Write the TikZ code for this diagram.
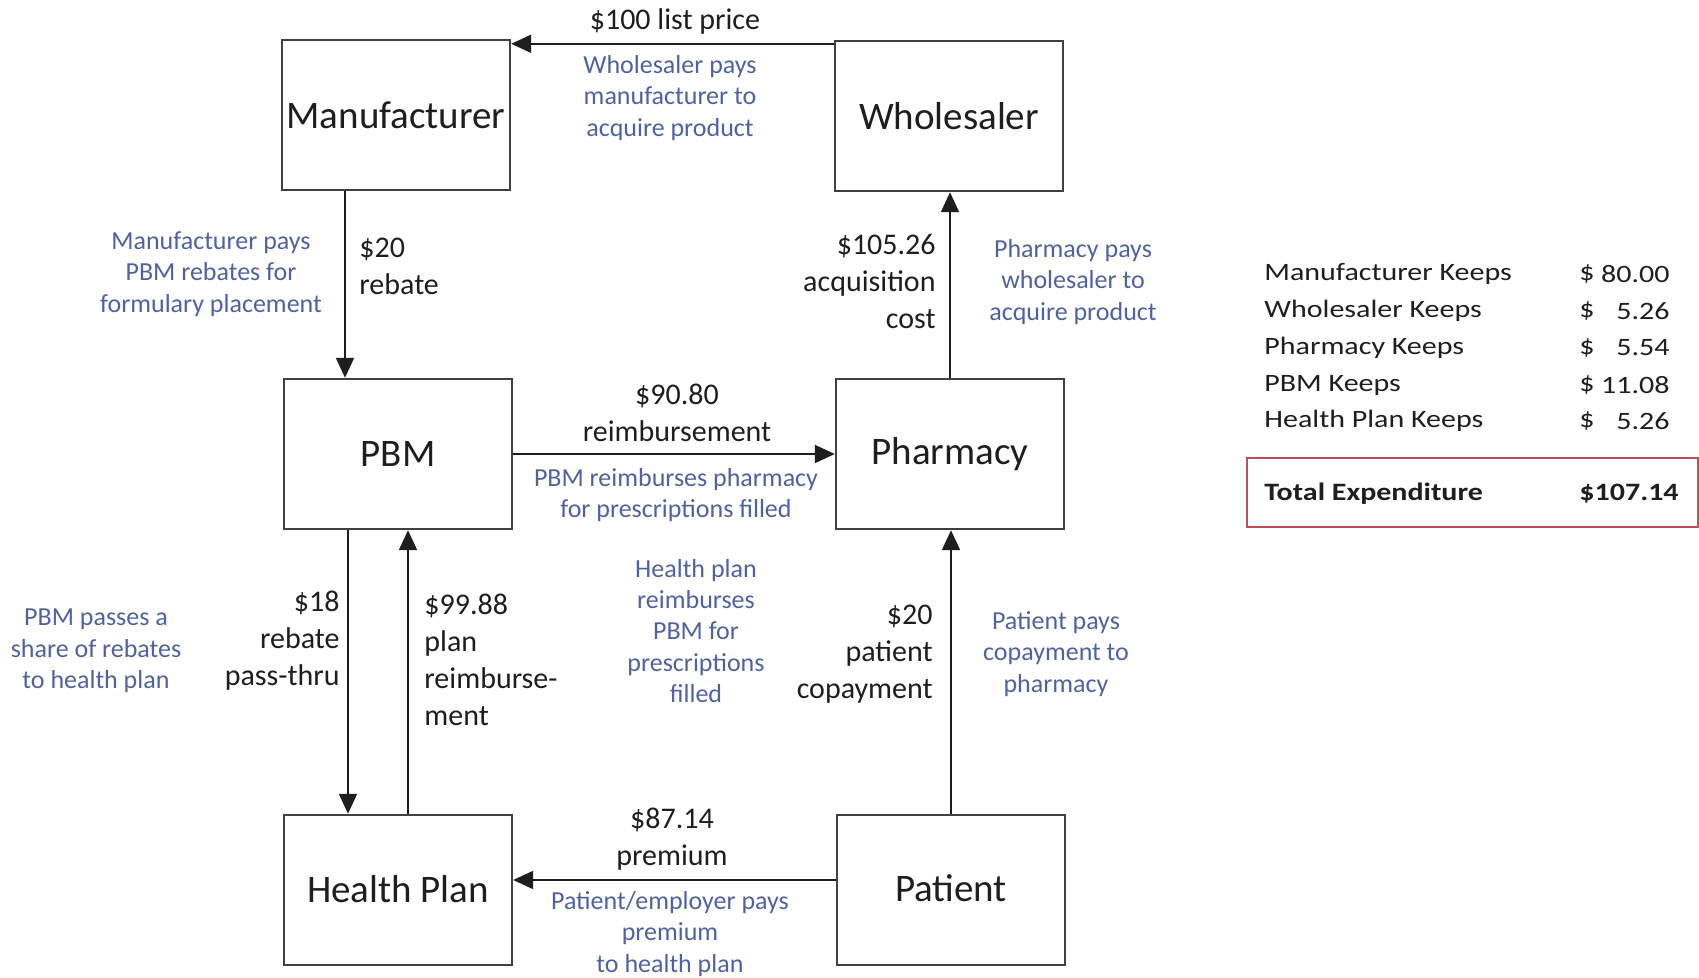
\documentclass[tikz,border=0pt]{standalone}
\usepackage{fontspec}
\setmainfont{Carlito}
\newfontfamily\tabfont[FakeStretch=1.2]{Carlito}
\usetikzlibrary{arrows.meta}
\definecolor{noteblue}{RGB}{80,98,158}
\definecolor{ink}{RGB}{30,30,30}
\definecolor{totred}{RGB}{185,80,90}
\begin{document}
\begin{tikzpicture}[x=0.5pt,y=-0.5pt,
 party/.style={draw=ink!85, line width=1.2pt, minimum width=114pt, minimum height=75pt, inner sep=0pt, font=\fontsize{19.5}{23}\selectfont, text=ink},
 flow/.style={draw=ink, line width=1pt, -{Triangle[length=10pt,width=9pt]}},
 amt/.style={font=\fontsize{15}{18.5}\selectfont, text=ink, inner sep=0pt},
 note/.style={font=\fontsize{13}{15.7}\selectfont, text=noteblue, inner sep=0pt, align=center},
 tab/.style={font=\tabfont\fontsize{12.5}{15}\selectfont, text=ink, inner sep=0pt},
 tabb/.style={font=\tabfont\bfseries\fontsize{12.5}{15}\selectfont, text=ink, inner sep=0pt},
]
\useasboundingbox (0,0) rectangle (1699,978);

% parties
\node[party] (man) at (396,115) {Manufacturer};
\node[party] (whol) at (949,116) {Wholesaler};
\node[party] (pbm) at (398,454) {PBM};
\node[party] (pharm) at (950,454) {Pharmacy};
\node[party] (hp) at (398,890) {\raisebox{1.5pt}{Health Plan}};
\node[party] (pat) at (951,890) {\raisebox{1.5pt}{Patient}};

% flows
\draw[flow] ([yshift=-2pt]whol.north west) -- ([yshift=-2pt]whol.north west -| man.east);
\draw[flow] ([xshift=-25.5pt]man.south) -- ([xshift=-25.5pt]man.south |- pbm.north);
\draw[flow] (pharm.north) -- (pharm.north |- whol.south);
\draw[flow] (pbm.east) -- (pharm.west);
\draw[flow] ([xshift=-25pt]pbm.south) -- ([xshift=-25pt]pbm.south |- hp.north);
\draw[flow] ([xshift=5pt]hp.north) -- ([xshift=5pt]hp.north |- pbm.south);
\draw[flow] (pat.north) -- (pat.north |- pharm.south);
\draw[flow] ([yshift=5pt]pat.west) -- ([yshift=5pt]pat.west -| hp.east);

% amounts
\node[amt, align=center] (a1) at (675,22) {\$100 list price};
\node[amt, align=left, anchor=west] (a2) at (359,266) {\$20\\rebate};
\node[amt, align=right, anchor=east] (a3) at (936,281) {\$105.26\\acquisition\\cost};
\node[amt, align=center] (a4) at (677,413) {\$90.80\\reimbursement};
\node[amt, align=right, anchor=east] (a5) at (340,641) {\$18\\rebate\\pass-thru};
\node[amt, align=left, anchor=west] (a6) at (424,660) {\$99.88\\plan\\reimburse-\\ment};
\node[amt, align=right, anchor=east] (a7) at (933,654) {\$20\\patient\\copayment};
\node[amt, align=center] (a8) at (672,839) {\$87.14\\premium};

% notes
\node[note] (n1) at (670,98) {Wholesaler pays\\manufacturer to\\acquire product};
\node[note] (n2) at (211,274) {Manufacturer pays\\PBM rebates for\\formulary placement};
\node[note] (n3) at (1073,282) {Pharmacy pays\\wholesaler to\\acquire product};
\node[note] (n4) at (676,495) {PBM reimburses pharmacy\\for prescriptions filled};
\node[note] (n5) at (696,631) {Health plan\\reimburses\\PBM for\\prescriptions\\filled};
\node[note] (n6) at (96,651) {PBM passes a\\share of rebates\\to health plan};
\node[note] (n7) at (1056,654) {Patient pays\\copayment to\\pharmacy};
\node[note] (n8) at (670,934) {Patient/employer pays\\premium\\to health plan};

% table
\node[tab, anchor=west] (k1) at (1264,274) {Manufacturer Keeps};
\node[tab, anchor=west] (k2) at (1264,311) {Wholesaler Keeps};
\node[tab, anchor=west] (k3) at (1264,348) {Pharmacy Keeps};
\node[tab, anchor=west] (k4) at (1264,385) {PBM Keeps};
\node[tab, anchor=west] (k5) at (1264,421) {Health Plan Keeps};
\foreach \yy/\nn in {274/k1d,311/k2d,348/k3d,385/k4d,421/k5d}{
  \node[tab, anchor=west] (\nn) at (1579,\yy) {\$};
}
\node[tab, anchor=east] (v1) at (1670,274) {80.00};
\node[tab, anchor=east] (v2) at (1670,311) {5.26};
\node[tab, anchor=east] (v3) at (1670,348) {5.54};
\node[tab, anchor=east] (v4) at (1670,385) {11.08};
\node[tab, anchor=east] (v5) at (1670,421) {5.26};
\node[draw=totred, line width=1.1pt, minimum width=225.5pt, minimum height=34.5pt, inner sep=0pt] (tot) at (1472.5,492.5) {};
\node[tabb, anchor=west] (tl) at (1264,494) {Total Expenditure};
\node[tabb, anchor=west] (tv) at (1579,494) {\$107.14};
\end{tikzpicture}
\end{document}
